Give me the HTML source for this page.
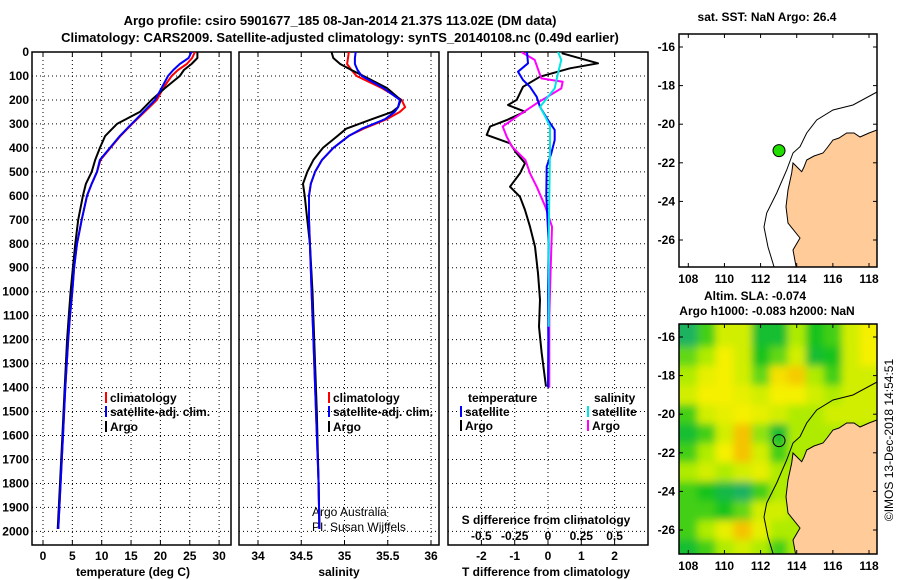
<!DOCTYPE html>
<html><head><meta charset="utf-8"><style>
body{margin:0;background:#fff;}
svg{display:block;font-family:"Liberation Sans",sans-serif;font-weight:bold;}
text{font-size:12px;fill:#000;}
</style></head><body>
<svg id="c" width="900" height="580" viewBox="0 0 900 580" xmlns="http://www.w3.org/2000/svg">
<defs>
<clipPath id="cp1"><rect x="32" y="52" width="199" height="493"/></clipPath>
<clipPath id="cp2"><rect x="239" y="52" width="200" height="493"/></clipPath>
<clipPath id="cp3"><rect x="448" y="52" width="200" height="493"/></clipPath>
<clipPath id="cpm1"><rect x="679" y="34" width="198" height="233"/></clipPath>
<clipPath id="cpm2"><rect x="679" y="324" width="198" height="230"/></clipPath>
<filter id="blur" x="-10%" y="-10%" width="120%" height="120%"><feGaussianBlur stdDeviation="4"/></filter>
</defs>
<text x="340" y="25" text-anchor="middle" style="font-size:13px">Argo profile: csiro 5901677_185 08-Jan-2014 21.37S 113.02E (DM data)</text>
<text x="340" y="42" text-anchor="middle" style="font-size:13px">Climatology: CARS2009. Satellite-adjusted climatology: synTS_20140108.nc (0.49d earlier)</text>
<text x="767" y="21" text-anchor="middle">sat. SST: NaN Argo: 26.4</text>
<text x="755" y="300" text-anchor="middle">Altim. SLA: -0.074</text>
<text x="767" y="315" text-anchor="middle">Argo h1000: -0.083 h2000: NaN</text>
<text transform="translate(893,440) rotate(-90)" text-anchor="middle" style="font-weight:normal">©IMOS 13-Dec-2018 14:54:51</text>
<g id="g"></g>
</svg>
<script>
// ---- data ----
const depthT = [0,25,50,75,100,150,200,250,300,350,400,450,500,550,600,700,800,900,1000,1100,1200,1400,1600,1800,1990];
const argoTemp = [26.3,26.3,25.3,24.0,23.3,20.8,18.5,16.5,12.6,10.6,9.7,8.9,8.3,7.3,6.8,6.0,5.5,5.1,4.7,4.4,4.1,3.7,3.3,2.9,2.5];
const climTemp = [25.9,25.4,24.5,23.0,21.9,20.5,19.4,17.3,15.2,13.2,11.5,9.8,9.2,8.3,7.5,6.6,5.8,5.3,5.0,4.6,4.3,3.8,3.4,3.0,2.6];
const satTemp = [25.3,24.8,23.3,22.2,21.3,20.2,19.1,17.1,15.1,13.1,11.4,9.7,9.2,8.3,7.5,6.6,5.8,5.3,5.0,4.6,4.3,3.8,3.4,3.0,2.6];
const depthS = [0,25,50,75,100,150,200,230,250,280,320,350,400,450,500,550,600,700,800,1000,1200,1500,1800,1990];
const argoSal = [34.85,34.87,34.95,35.08,35.22,35.49,35.65,35.62,35.55,35.32,35.02,34.92,34.75,34.64,34.57,34.52,34.54,34.57,34.60,34.63,34.65,34.68,34.70,34.71];
const climSal = [35.05,35.04,35.03,35.08,35.14,35.43,35.66,35.70,35.64,35.49,35.22,35.05,34.87,34.74,34.66,34.61,34.59,34.59,34.60,34.62,34.64,34.67,34.70,34.71];
const satSal = [35.13,35.12,35.12,35.15,35.20,35.45,35.64,35.62,35.58,35.47,35.20,35.05,34.87,34.74,34.66,34.61,34.59,34.59,34.60,34.62,34.64,34.67,34.70,34.71];
const depthArgoDT = [5,47,68,103,145,200,221,249,284,311,346,381,423,464,506,562,604,659,729,812,923,1034,1146,1257,1396];
const argoDT = [0.41,1.5,0.66,-0.24,-0.75,-0.94,-1.2,-0.69,-1.24,-1.74,-1.84,-1.14,-0.94,-0.69,-0.84,-1.14,-0.84,-0.69,-0.54,-0.39,-0.3,-0.24,-0.27,-0.19,-0.06];
const depthSatDT = [0,47,82,117,145,187,229,284,325,367,423,478,600,800,1000,1200,1400];
const satDT = [-0.63,-0.6,-0.9,-0.75,-0.54,-0.34,-0.24,0,0.2,0.2,0.1,-0.04,-0.05,0.02,0,0.01,0];
const depthArgoDS = [0,33,80,110,124,152,214,270,311,353,395,451,506,562,645,729,900,1100,1400];
const argoDS = [-0.2,-0.1,-0.07,-0.05,0.11,0.1,-0.085,-0.235,-0.34,-0.31,-0.27,-0.17,-0.135,-0.085,-0.02,0.03,0.02,0.01,0.01];
const depthSatDS = [0,33,89,152,229,270,311,400,600,800,1000,1146];
const satDS = [0.075,0.1,0.075,0.05,-0.06,-0.02,0.015,0.015,0.01,0.005,0.005,0.005];
const depthTicks = [0,100,200,300,400,500,600,700,800,900,1000,1100,1200,1300,1400,1500,1600,1700,1800,1900,2000];
const tempTicks = [0,5,10,15,20,25,30];
const salTicks = [34,34.5,35,35.5,36];
const dTTicks = [-2,-1,0,1,2];
const dSTicks = [-0.5,-0.25,0,0.25,0.5];
const dSLabels = ["-0.5","-0.25","0","0.25","0.5"];
const lonTicks = [108,110,112,114,116,118];
const latTicks = [-16,-18,-20,-22,-24,-26];
const profLon = 113.02, profLat = -21.37;
const slaLats = [-16,-17,-18,-19,-20,-21,-22,-23,-24,-25,-26,-27];
const slaLons = [108,109,110,111,112,113,114,115,116,117,118];
const slaGrid = [
[0.3,1.3,2.5,2.5,0.8,0.8,2,1,1.3,2.5,3],
[1.5,2,3,2.5,1,1.5,2.5,0.8,1,2.5,3],
[2,2.8,3,2.5,1.5,3.2,3.5,2,1.3,2.5,2.5],
[2.5,3,3,2.8,2.5,3,3,2.5,2,2.5,2.5],
[1.3,2.5,2.8,3,2.8,2.5,2,2,2.5,2.5,2.5],
[0.8,1.3,2.5,3.6,1.8,0.8,2,2,2,2,2],
[1.3,2,3,3.6,2.5,1.3,2,2,2,2,2],
[2,2.5,2,2.5,2.8,2,2,2,2,2,2],
[1.3,1,0.6,0.3,1.3,2,2,2,2,2,2],
[1.3,1.3,1,1.5,2.5,2.5,2,2,2,2,2],
[1.3,2,2.8,3.6,2.8,2,2,2,2,2,2],
[0.8,1.3,2,2.5,2,1.3,2,2,2,2,2]];

// ---- scales ----
const yD = d => 52 + 0.2397*d;
const xT = t => 43 + t*5.87;
const xS = s => 258 + (s-34)*86.5;
const xdT = v => 548 + v*33.3;
const xdS = v => 548 + v*133.2;
const xLon = l => 688.3 + (l-108)*18.07;
const yLat1 = l => 47 + (-16-l)*19.3;
const yLat2 = l => 337 + (-16-l)*19.3;

const NS = "http://www.w3.org/2000/svg";
const G = document.getElementById('g');
function mk(tag, attrs, parent){ const e=document.createElementNS(NS,tag); for(const k in attrs) e.setAttribute(k,attrs[k]); (parent||G).appendChild(e); return e; }
function txt(x,y,s,anchor,parent,extra){ const e=mk('text',Object.assign({x:x,y:y,'text-anchor':anchor||'middle'},extra||{}),parent); e.textContent=s; return e; }

// ---- profile panels ----
const panels = [{x0:32,x1:231,cp:'cp1',name:'temperature'},{x0:239,x1:439,cp:'cp2',name:'salinity'},{x0:448,x1:648,cp:'cp3',name:'difference'}];
const vgrids = [tempTicks.map(xT), salTicks.map(xS), dTTicks.map(xdT)];
panels.forEach((p,i)=>{
  const pg = mk('g',{});
  
  
  depthTicks.forEach(d=>{ if(d>0){ const l=mk('line',{x1:p.x0,x2:p.x1,y1:yD(d),y2:yD(d),stroke:'#000','stroke-width':1,'stroke-dasharray':'1,3'},pg);
      }});
  vgrids[i].forEach(x=>{ const l=mk('line',{x1:x,x2:x,y1:52,y2:545,stroke:'#000','stroke-width':1,'stroke-dasharray':'1,3'},pg);
     
    mk('line',{x1:x,x2:x,y1:545,y2:540,stroke:'#000'},pg); mk('line',{x1:x,x2:x,y1:52,y2:57,stroke:'#000'},pg); });
  const fr = mk('rect',{x:p.x0,y:52,width:p.x1-p.x0,height:493,fill:'none',stroke:'#000','stroke-width':1.5},pg);
  
  
});
depthTicks.forEach(d=>{ const t=txt(29,yD(d)+4,String(d),'end');
    });
tempTicks.forEach(v=>{ const t=txt(xT(v),560,String(v));
    });
salTicks.forEach(v=>{ const t=txt(xS(v),560,String(v));
    });
dTTicks.forEach(v=>{ const t=txt(xdT(v),560,String(v));
    });
dSTicks.forEach((v,i)=>{ const t=txt(xdS(v),540,dSLabels[i]);
    });
let t;
t=txt(133,576,'temperature (deg C)');  
t=txt(339,576,'salinity');  
t=txt(546,576,'T difference from climatology');  
t=txt(546,524,'S difference from climatology');  
t=txt(312,516,'Argo Australia','start',G,{style:'font-weight:normal'});  
t=txt(312,531,'PI: Susan Wijffels','start',G,{style:'font-weight:normal'});  

function line(xs, ds, xf, color, cp, name){
  const pts = ds.map((d,i)=>xf(xs[i]).toFixed(1)+','+yD(d).toFixed(1)).join(' ');
  const l = mk('polyline',{points:pts,fill:'none',stroke:color,'stroke-width':2,'stroke-linejoin':'round','clip-path':'url(#'+cp+')'});
  
  
}
line(climTemp, depthT, xT, '#ff0000', 'cp1', 'climatology-temperature-line');
line(argoTemp, depthT, xT, '#000000', 'cp1', 'argo-temperature-line');
line(satTemp, depthT, xT, '#0000ff', 'cp1', 'satellite-temperature-line');
line(climSal, depthS, xS, '#ff0000', 'cp2', 'climatology-salinity-line');
line(argoSal, depthS, xS, '#000000', 'cp2', 'argo-salinity-line');
line(satSal, depthS, xS, '#0000ff', 'cp2', 'satellite-salinity-line');
line(argoDT, depthArgoDT, xdT, '#000000', 'cp3', 'argo-t-difference-line');
line(argoDS, depthArgoDS, xdS, '#ff00ff', 'cp3', 'argo-s-difference-line');
line(satDT, depthSatDT, xdT, '#0000ff', 'cp3', 'satellite-t-difference-line');
line(satDS, depthSatDS, xdS, '#00e5e5', 'cp3', 'satellite-s-difference-line');

// legends
function legend(x, y, color, label, name){
  const lg = mk('g',{});
  
  
  mk('rect',{x:x,y:y-10,width:2,height:11,fill:color},lg);
  txt(x+5,y,label,'start',lg);
}
legend(105,402,'#ff0000','climatology','legend-entry-climatology');
legend(105,416,'#0000ff','satellite-adj. clim.','legend-entry-satellite');
legend(105,431,'#000000','Argo','legend-entry-argo');
legend(328,402,'#ff0000','climatology','legend-entry-climatology-salinity');
legend(328,416,'#0000ff','satellite-adj. clim.','legend-entry-satellite-salinity');
legend(328,431,'#000000','Argo','legend-entry-argo-salinity');
t=txt(468,402,'temperature','start');  
t=txt(594,402,'salinity','start');  
legend(460,416,'#0000ff','satellite','legend-entry-t-satellite');
legend(460,430,'#000000','Argo','legend-entry-t-argo');
legend(587,416,'#00e5e5','satellite','legend-entry-s-satellite');
legend(587,430,'#ff00ff','Argo','legend-entry-s-argo');

// ---- maps ----
const coast = "M198,96 L190,99 L181,103 L175,99 L167.7,99 L160,104 L154,106 L148,114 L144,119 L135,122 L127.7,126 L125,133 L122.7,137.7 L119,134 L114,129 L112.7,139 L109,156 L107,172.7 L109,189 L121,204 L114,216 L117.7,236 L198,236 Z";
const shelf = "M198,58 L174,71 L154,76 L137.7,86 L127.7,99 L121,112.7 L114,119 L107.7,136 L97.7,159 L87.7,179 L85,193 L89,213 L96,236";
function colorFor(v){
  const stops=[[0,[29,170,125]],[1,[20,195,30]],[2,[175,235,5]],[3,[245,240,0]],[4,[245,165,0]]];
  v=Math.max(0,Math.min(4,v)); const i=Math.min(3,Math.floor(v)); const f=v-i;
  const a=stops[i][1], b=stops[i+1][1];
  return 'rgb('+a.map((c,k)=>Math.round(c+(b[k]-c)*f)).join(',')+')';
}
function drawMap(y0, y1, yLat, cp, name, heat){
  const mg = mk('g',{});
  
  
  mk('rect',{x:679,y:y0,width:198,height:y1-y0,fill:'#fff'},mg);
  if(heat){
    const hg = mk('g',{'clip-path':'url(#'+cp+')'},mg);
    const bg = mk('g',{filter:'url(#blur)'},hg);
    for(let r=-2;r<slaLats.length+2;r++){
      for(let c=-2;c<slaLons.length+2;c++){
        const rr=Math.max(0,Math.min(slaLats.length-1,r)), cc=Math.max(0,Math.min(slaLons.length-1,c));
        const lat=-16-r, lon=108+c;
        const cell=mk('rect',{x:xLon(lon-0.5),y:yLat(lat+0.5),width:18.6,height:19.8,fill:colorFor(slaGrid[rr][cc])},bg);
        
        
      }
    }
  }
  const cg = mk('g',{'clip-path':'url(#'+cp+')'},mg);
  const inner_g = mk('g',{transform:'translate(679,'+(yLat(-16)-13)+')'},cg);
  mk('path',{d:coast,fill:'#ffcc99',stroke:'#000','stroke-width':1},inner_g);
  mk('path',{d:shelf,fill:'none',stroke:'#000','stroke-width':1},inner_g);
  const dot = mk('circle',{cx:xLon(profLon),cy:yLat(profLat),r:6,fill:heat?'none':'#22dd00',stroke:'#000','stroke-width':1},mg);
  
  
  mk('rect',{x:679,y:y0,width:198,height:y1-y0,fill:'none',stroke:'#000','stroke-width':1.5},mg);
  lonTicks.forEach(l=>{ const x=xLon(l);
    mk('line',{x1:x,x2:x,y1:y1,y2:y1-4,stroke:'#000'},mg); mk('line',{x1:x,x2:x,y1:y0,y2:y0+4,stroke:'#000'},mg);
    const tl=txt(x,y1+16,String(l),'middle',mg);   });
  latTicks.forEach(l=>{ const y=yLat(l);
    mk('line',{x1:679,x2:683,y1:y,y2:y,stroke:'#000'},mg); mk('line',{x1:877,x2:873,y1:y,y2:y,stroke:'#000'},mg);
    const tl=txt(675,y+4,String(l),'end',mg);   });
}
drawMap(34, 267, yLat1, 'cpm1', 'sst-map', false);
drawMap(324, 554, yLat2, 'cpm2', 'sla-map', true);
</script>
</body></html>
